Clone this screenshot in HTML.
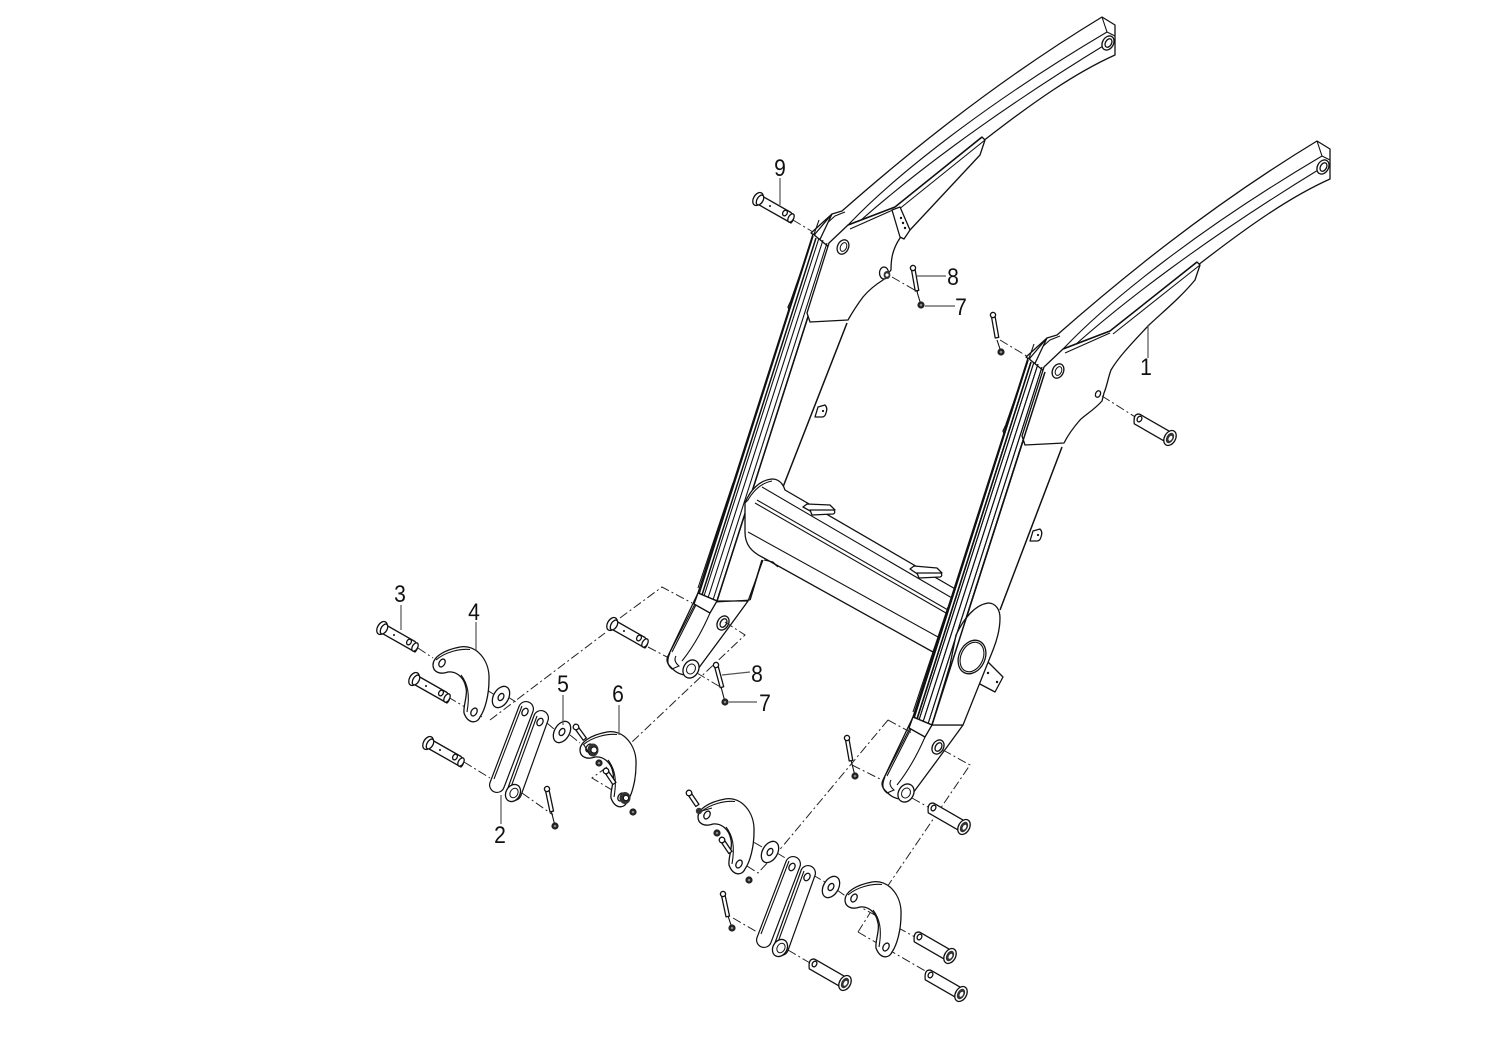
<!DOCTYPE html>
<html><head><meta charset="utf-8"><style>
html,body{margin:0;padding:0;background:#fff}
svg{display:block}
text{font-family:"Liberation Sans",sans-serif;font-size:24px;fill:#111}
.l{fill:none;stroke:#111;stroke-width:1.1}
.t{fill:none;stroke:#111;stroke-width:1.5}
.w{fill:#fff;stroke:#111;stroke-width:1.3;stroke-linejoin:round}
.d{fill:none;stroke:#222;stroke-width:1;stroke-dasharray:9 3 2 3}
.g{fill:none;stroke:#555;stroke-width:1.2}
</style></head><body>
<svg width="1500" height="1061" viewBox="0 0 1500 1061" xmlns="http://www.w3.org/2000/svg">
<defs>
<g id="pinA">
<path class="w" d="M2.3,-4 L33,13.5 Q38,19 33,24 L-2.3,4 Z"/>
<ellipse class="w" cx="33" cy="19" rx="2.6" ry="4.6" transform="rotate(30 33 19)"/>
<ellipse class="w" cx="27" cy="14" rx="2.2" ry="3" transform="rotate(30 27 14)"/>
<circle cx="12" cy="7" r="1" fill="#111"/>
<ellipse class="w" cx="0" cy="0" rx="4.5" ry="7" transform="rotate(30)" stroke-width="2"/>
<ellipse class="w" cx="2" cy="1" rx="3" ry="5.4" transform="rotate(30 2 1)"/>
</g>
<g id="pinB">
<path class="w" d="M2.75,-4.8 L-30.25,-23.8 Q-37,-25 -35.75,-14.2 L-2.75,4.8 Z"/>
<ellipse class="w" cx="-30.5" cy="-19" rx="2.2" ry="3" transform="rotate(30 -30.5 -19)"/>
<ellipse class="w" cx="0" cy="0" rx="5.5" ry="8" transform="rotate(30)" stroke-width="2"/>
<ellipse cx="0" cy="0" rx="3.6" ry="5.6" transform="rotate(30)" fill="#333"/>
<ellipse cx="0.5" cy="0" rx="1.6" ry="2.8" transform="rotate(30)" fill="#fff"/>
</g>
<g id="nut"><circle r="3.6" fill="#222"/><circle r="1.3" fill="#888"/></g>
<g id="screw">
<path class="w" d="M-1.8,0 L-1.8,23 L1.8,23 L1.8,0 Z"/>
<circle r="2.6" class="w"/>
</g>
<g id="screwS">
<path class="w" d="M-1.9,0 L-1.9,15 L1.9,15 L1.9,0 Z"/>
<circle r="2.8" class="w"/>
</g>
<g id="hook">
<path class="w" d="M433,665 C433,657 444,650 460,647 C476,644 490,660 489,680 C489,695 485,710 480,717 C477,724 468,724 464,713 C463,706 468,695 466,688 C464,676 455,671 448,672 C440,675 433,672 433,665 Z"/>
<path class="l" d="M436,660 C445,652 460,648.5 470,649.5 M461,675 C468,684 470,695 467,712"/>
<ellipse class="w" cx="442" cy="663" rx="2.8" ry="4.2" transform="rotate(30 442 663)"/>
<ellipse class="w" cx="474" cy="712" rx="2.8" ry="4.2" transform="rotate(30 474 712)"/>
</g>
<g id="washer">
<ellipse class="w" rx="7.5" ry="11.5" transform="rotate(30)"/>
<ellipse class="w" rx="2.6" ry="3.8" transform="rotate(30)"/>
</g>
<g id="link">
<path d="M526,709 L497,785" fill="none" stroke="#111" stroke-width="16" stroke-linecap="round"/>
<path d="M526,709 L497,785" fill="none" stroke="#fff" stroke-width="13.6" stroke-linecap="round"/>
<path class="l" d="M522,706 L494,779"/>
<path d="M541,718 L514,793" fill="none" stroke="#111" stroke-width="16" stroke-linecap="round"/>
<path d="M541,718 L514,793" fill="none" stroke="#fff" stroke-width="13.6" stroke-linecap="round"/>
<path class="l" d="M537,716 L511,787"/>
<ellipse class="w" cx="525" cy="712" rx="2.8" ry="4" transform="rotate(30 525 712)"/>
<ellipse class="w" cx="540" cy="722" rx="2.8" ry="4" transform="rotate(30 540 722)"/>
<ellipse class="w" cx="513" cy="793" rx="7" ry="9" transform="rotate(30 513 793)" stroke-width="1.8"/>
<ellipse cx="514" cy="793" rx="3.8" ry="5" transform="rotate(30 514 793)" fill="#fff" stroke="#111"/>
</g>
<g id="arm">
<!-- beam -->
<path class="w" d="M1026,357 L1047,338 L1057,335 C1115,284 1205,209 1317,141 L1330,149 L1330,179 C1290,197 1250,225 1202,262 L1100,340 L1045,372 Z"/>
<path class="l" d="M1044,369 L1065,347 C1110,300 1200,228 1322,156"/>
<path class="l" d="M1075,345 C1120,305 1200,242 1323,167"/>
<path class="l" d="M1317,141 L1322,156 L1330,160"/>
<path class="l" d="M1030,358 L1050,340 L1060,336"/>
<!-- bump at joint back -->
<path class="w" d="M1003,431 L1005,436 L1030,358 L1047,338 Z"/>
<path class="l" d="M1006,424 L1034,344"/>
<!-- leg strip -->
<path class="w" d="M1028,358 L1045,372 L932,725 L913,717 Z"/>
<path class="l" d="M948,607 L913,712"/>
<path class="t" d="M1028,360 L914,718 M1031,362 L917,719"/>
<path class="l" d="M1034,362 L919,720 M1038,364 L923,722 M1042,367 L928,724"/>
<path class="t" d="M1045,372 L932,725"/>
<!-- lower leg -->
<path class="w" d="M913,717 L932,725 L963,725 C945,750 930,770 910,797 C905,801 895,799 890,795 C884,790 880,786 883,780 Z"/>
<path class="l" d="M916,719 L887,776 M911,726 L884,778"/>
<path class="w" d="M913,717 L932,725 L925,737 L909,728 Z"/>
<path class="l" d="M925,737 C915,760 905,775 897,785"/>
<path class="l" d="M885,777 Q880,788 887,793 L894,790 Q888,785 891,780"/>
<ellipse class="w" cx="906" cy="793" rx="7.5" ry="9.5" transform="rotate(30 906 793)" stroke-width="1.6"/>
<ellipse cx="906" cy="793" rx="4.2" ry="5.2" transform="rotate(30 906 793)" fill="#fff" stroke="#111"/>
<ellipse class="w" cx="938" cy="747" rx="5.5" ry="7.5" transform="rotate(30 938 747)"/>
<ellipse class="w" cx="938.5" cy="747" rx="3" ry="4.6" transform="rotate(30 938.5 747)"/>
<!-- side tab -->
<path class="w" d="M1030,541 L1033,531 L1040,529 Q1043,532 1041,537 Q1040,541 1037,541 Z"/>
<circle cx="1038" cy="535" r="1.1" fill="#111"/>
<!-- top pivot hole -->
<ellipse class="w" cx="1323" cy="167" rx="5.5" ry="7.5" transform="rotate(30 1323 167)" stroke-width="1.6"/>
<ellipse class="w" cx="1323.5" cy="167" rx="3" ry="4.6" transform="rotate(30 1323.5 167)"/>
</g>
</defs>
<rect width="1500" height="1061" fill="#fff"/>

<!-- LEFT ARM -->
<g transform="translate(-215,-124)">
<path class="t" d="M1062,447 L998,611"/>
<path class="l" d="M978,684 L963,725"/>
<use href="#arm"/>
</g>
<!-- left upper plate -->
<path class="w" d="M982,137 L985,140 L980,155 L910,230 L900,238 C892,250 891,260 891,270 L883,280 C875,285 868,291 863,297 C857,305 852,313 848,320 L810,322 L807,313 L829,243 L848,225 L895,207 Z"/>
<path class="t" d="M982,137 L895,207 L848,225"/>
<path class="l" d="M985,140 L898,210 M895,209 L850,229"/>
<ellipse class="w" cx="843" cy="247" rx="5.5" ry="7.5" transform="rotate(25 843 247)" stroke-width="1.6"/>
<ellipse cx="843.5" cy="247" rx="3" ry="4.6" transform="rotate(25 843.5 247)" fill="#fff" stroke="#111"/>
<path class="w" d="M892,210 L900,207 L910,230 L904,239 L900,237 Z"/>
<circle cx="901" cy="218" r="1.2" fill="#111"/><circle cx="903" cy="223" r="1.2" fill="#111"/><circle cx="905" cy="228" r="1.2" fill="#111"/>
<ellipse class="w" cx="884" cy="273" rx="4.5" ry="6"/>
<ellipse cx="887" cy="275" rx="3.4" ry="4" fill="#333"/>
<circle cx="887" cy="275" r="1.6" fill="#fff"/>

<!-- TUBE -->
<path class="w" d="M745,503 C750,490 760,480 772,479 C779,479 783,484 785,490 L957,590 L933,652 L762,557 C752,552 745,545 745,532 Z"/>
<path class="l" d="M757,500 L948,610 M755,503 L946,613 M748,532 L938,637 M762,487 L952,598"/>
<path class="l" d="M745,503 L748,500 Q757,484 772,481"/>
<path class="l" d="M764,560 L773,562 L778,567 L772,562"/>
<path class="t" d="M762,560 L750,600"/>
<path class="l" d="M717,602 L750,600"/>
<!-- brackets -->
<path class="w" d="M803,507 L807,504 L830,505 L835,510 L812,512 Z"/>
<path class="w" d="M810,510 L834,510 Q836,513 833,514 L812,515 Z"/>
<path class="w" d="M910,569 L914,566 L937,568 L942,573 L919,575 Z"/>
<path class="w" d="M917,573 L941,573 Q943,576 940,577 L919,578 Z"/>

<!-- RIGHT ARM -->
<path class="t" d="M1062,447 L1000,610"/>
<use href="#arm"/>
<!-- right upper plate -->
<path class="w" d="M1197,262 L1200,265 L1195,280 C1180,298 1165,310 1149,325 C1130,345 1118,358 1111,370 C1108,378 1107,386 1104,393 L1102,401 C1094,410 1085,415 1080,420 C1073,428 1068,435 1064,443 L1025,445 L1022,436 L1044,367 L1063,349 L1110,331 Z"/>
<path class="t" d="M1197,262 L1110,331 L1063,349"/>
<path class="l" d="M1200,265 L1113,334 M1110,333 L1065,353"/>
<ellipse class="w" cx="1058" cy="371" rx="5.5" ry="7.5" transform="rotate(25 1058 371)" stroke-width="1.6"/>
<ellipse cx="1058.5" cy="371" rx="3" ry="4.6" transform="rotate(25 1058.5 371)" fill="#fff" stroke="#111"/>
<ellipse class="w" cx="1098" cy="394" rx="2.4" ry="3.4" transform="rotate(25 1098 394)"/>
<!-- big plate -->
<path class="w" d="M988,662 L1003,677 L995,692 L978,683 Z"/>
<circle cx="988" cy="673" r="1.2" fill="#111"/><circle cx="997" cy="682" r="1.2" fill="#111"/>
<path class="w" d="M988,603 C996,603 1000,610 1000,618 C1000,630 997,640 993,650 L963,725 L932,725 L950,665 L956,635 C964,618 975,605 988,603 Z"/>
<ellipse class="w" cx="972" cy="657" rx="13" ry="17.5" transform="rotate(25 972 657)"/>
<ellipse class="l" cx="972" cy="657" rx="11" ry="15.5" transform="rotate(25 972 657)"/>
<path class="t" d="M1028,360 L914,718 M1031,362 L917,719 M1045,372 L932,725"/>
<path class="l" d="M1034,362 L919,720 M1038,364 L923,722 M1042,367 L928,724"/>

<!-- DASH LINES -->
<path class="d" d="M793,220 L813,232 M892,277 L918,292 M1000,340 L1030,358 M1102,396 L1140,420"/>
<path class="d" d="M418,648 L433,658 M442,663 L495,695 M448,697 L482,717 M490,720 L605,633 M620,618 L662,587 L692,603 M725,622 L745,635 L632,742 M648,647 L667,657 M697,673 L722,688"/>
<path class="d" d="M464,762 L490,778 M522,793 L553,815 M508,697 L516,702 M547,723 L554,729 M570,735 L580,743 M607,767 L592,778 L617,793"/>
<path class="d" d="M852,765 L882,780 M888,720 L782,847 M888,720 L912,733 M943,750 L970,765 L887,887 M858,932 L870,913 M858,932 L927,972 M912,798 L928,807 M853,903 L915,937 M710,817 L762,847 M747,866 L758,873 L782,847 M777,853 L787,859 M813,875 L825,882 M837,890 L847,897 M733,918 L757,932 M788,950 L810,963"/>
<path class="l" d="M915,285 L921,305 M997,340 L1001,352 M720,683 L725,702 M551,810 L555,826 M851,760 L855,776 M727,913 L732,928"/>

<!-- PINS -->
<use href="#pinA" x="382" y="628"/>
<use href="#pinA" x="414" y="679"/>
<use href="#pinA" x="428" y="743"/>
<use href="#pinA" x="612" y="624"/>
<use href="#pinA" x="758" y="199"/>
<use href="#pinB" x="1170" y="438"/>
<use href="#pinB" x="964" y="827"/>
<use href="#pinB" x="950" y="956"/>
<use href="#pinB" x="961" y="994"/>
<use href="#pinB" x="845" y="983"/>

<!-- HOOKS -->
<use href="#hook"/>
<use href="#hook" x="147" y="85"/>
<use href="#hook" x="265" y="152"/>
<use href="#hook" x="412" y="235"/>
<use href="#washer" x="501" y="697"/>
<use href="#washer" x="562" y="732"/>
<use href="#washer" x="770" y="852"/>
<use href="#washer" x="831" y="887"/>
<!-- LINKS -->
<use href="#link"/>
<use href="#link" x="267" y="155"/>

<!-- bosses on hook 6 and nuts -->
<ellipse cx="593" cy="750" rx="5.5" ry="6.5" fill="#333"/><circle cx="594" cy="750" r="3" fill="#fff" stroke="#111"/>
<ellipse cx="625" cy="798" rx="5.5" ry="6" fill="#333"/><circle cx="626" cy="798" r="2.6" fill="#fff" stroke="#111"/>
<path class="l" d="M584,745 L590,755 M712,808 L698,812"/>
<circle cx="699" cy="811" r="3.2" fill="#333"/>

<!-- SCREWS -->
<use href="#screw" transform="translate(913,268) rotate(-10)"/>
<use href="#screw" transform="translate(993,315) rotate(-10)"/>
<use href="#screw" transform="translate(716,665) rotate(-15)"/>
<use href="#screw" transform="translate(547,789) rotate(-12)"/>
<use href="#screw" transform="translate(847,738) rotate(-10)"/>
<use href="#screw" transform="translate(723,894) rotate(-12)"/>
<use href="#screwS" transform="translate(576,727) rotate(-36)"/>
<use href="#screwS" transform="translate(606,771) rotate(-34)"/>
<use href="#screwS" transform="translate(689,793) rotate(-34)"/>
<use href="#screwS" transform="translate(722,840) rotate(-34)"/>
<!-- NUTS -->
<use href="#nut" x="921" y="305"/>
<use href="#nut" x="1001" y="352"/>
<use href="#nut" x="725" y="702"/>
<use href="#nut" x="555" y="826"/>
<use href="#nut" x="855" y="776"/>
<use href="#nut" x="732" y="928"/>
<use href="#nut" x="599" y="763"/>
<use href="#nut" x="633" y="812"/>
<use href="#nut" x="717" y="833"/>
<use href="#nut" x="749" y="880"/>

<!-- LEADERS -->
<path class="g" d="M780,178 L780,205 M917,276 L946,276 M925,306 L955,306 M1148,325 L1148,358 M401,605 L401,630 M476,622 L476,650 M563,695 L563,725 M619,705 L619,735 M501,795 L501,824 M722,675 L750,672 M729,702 L757,702"/>
<!-- LABELS -->
<g text-anchor="middle">
<text transform="translate(780,176) scale(.88,1)">9</text>
<text transform="translate(953,285) scale(.88,1)">8</text>
<text transform="translate(961,315) scale(.88,1)">7</text>
<text transform="translate(1146,375) scale(.88,1)">1</text>
<text transform="translate(400,602) scale(.88,1)">3</text>
<text transform="translate(474,620) scale(.88,1)">4</text>
<text transform="translate(563,692) scale(.88,1)">5</text>
<text transform="translate(618,702) scale(.88,1)">6</text>
<text transform="translate(500,843) scale(.88,1)">2</text>
<text transform="translate(757,682) scale(.88,1)">8</text>
<text transform="translate(765,711) scale(.88,1)">7</text>
</g>
</svg>
</body></html>
